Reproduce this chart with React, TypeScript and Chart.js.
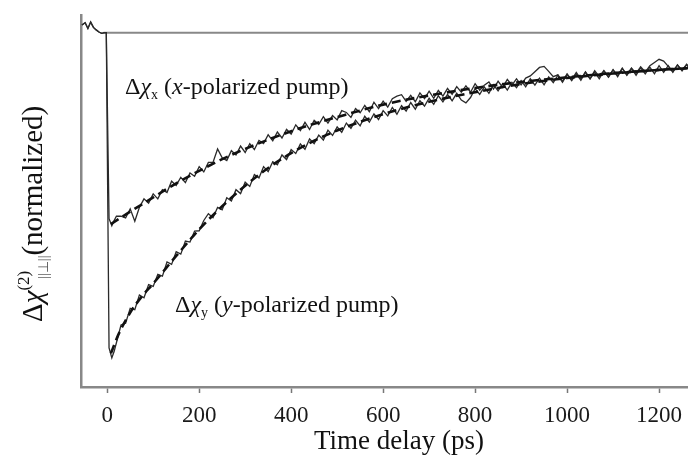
import React, { useEffect, useRef } from "react";
import { Chart, registerables } from "chart.js";

Chart.register(...registerables);

// ---- data (time in ps, signal normalized) ----
const timeData = [
  -55, -48, -42, -36, -30, -24, -18, -12, -6, -2, 4, 10, 15,
  20, 30, 40, 50, 60, 70, 80, 90, 100, 110, 120, 130, 140, 150, 160, 170, 180, 190,
  200, 210, 220, 230, 240, 250, 260, 270, 280, 290, 300, 310, 320, 330, 340, 350, 360, 370, 380, 390,
  400, 410, 420, 430, 440, 450, 460, 470, 480, 490, 500, 510, 520, 530, 540, 550, 560, 570, 580, 590,
  600, 610, 620, 630, 640, 650, 660, 670, 680, 690, 700, 710, 720, 730, 740, 750, 760, 770, 780, 790,
  800, 810, 820, 830, 840, 850, 860, 870, 880, 890, 900, 910, 920, 930, 940, 950, 960, 970, 980, 990,
  1000, 1010, 1020, 1030, 1040, 1050, 1060, 1070, 1080, 1090, 1100, 1110, 1120, 1130, 1140, 1150, 1160, 1170, 1180, 1190,
  1200, 1210, 1220, 1230, 1240, 1250, 1260, 1270, 1280, 1290, 1300,
];
const xPumpData = [
  1.022, 1.028, 1.012, 1.03, 1.015, 1.008, 1.002, 0.998, 1.0, 1.0, 0.475, 0.455, 0.47,
  0.482, 0.482, 0.477, 0.503, 0.468, 0.507, 0.531, 0.519, 0.545, 0.531, 0.557, 0.549, 0.581, 0.569, 0.592, 0.577, 0.604, 0.595,
  0.622, 0.607, 0.634, 0.634, 0.672, 0.647, 0.639, 0.667, 0.655, 0.68, 0.662, 0.687, 0.67, 0.696, 0.687, 0.712, 0.695, 0.72, 0.703, 0.727,
  0.714, 0.74, 0.724, 0.747, 0.727, 0.753, 0.741, 0.763, 0.745, 0.766, 0.754, 0.78, 0.775, 0.761, 0.786, 0.774, 0.795, 0.777, 0.804, 0.786,
  0.807, 0.79, 0.814, 0.821, 0.825, 0.806, 0.823, 0.805, 0.83, 0.814, 0.835, 0.815, 0.837, 0.821, 0.843, 0.826, 0.848, 0.832, 0.85, 0.832,
  0.856, 0.838, 0.852, 0.861, 0.841, 0.863, 0.846, 0.868, 0.852, 0.87, 0.853, 0.872, 0.878, 0.89, 0.902, 0.905, 0.891, 0.876, 0.881, 0.863,
  0.884, 0.867, 0.888, 0.869, 0.889, 0.87, 0.893, 0.876, 0.893, 0.875, 0.896, 0.879, 0.9, 0.881, 0.9, 0.885, 0.904, 0.889, 0.907, 0.916,
  0.925, 0.92, 0.905, 0.89, 0.909, 0.894, 0.911, 0.895, 0.912, 0.896, 0.911,
];
const yPumpData = [
  1.022, 1.028, 1.012, 1.03, 1.015, 1.008, 1.002, 0.998, 1.0, 1.0, 0.11, 0.082, 0.1,
  0.125, 0.175, 0.18, 0.222, 0.218, 0.26, 0.252, 0.289, 0.284, 0.318, 0.313, 0.353, 0.346, 0.382, 0.375, 0.412, 0.409, 0.44,
  0.441, 0.47, 0.489, 0.478, 0.507, 0.5, 0.534, 0.525, 0.557, 0.546, 0.578, 0.566, 0.6, 0.59, 0.622, 0.608, 0.636, 0.627, 0.655, 0.642,
  0.67, 0.659, 0.686, 0.671, 0.7, 0.687, 0.711, 0.697, 0.725, 0.71, 0.734, 0.719, 0.745, 0.73, 0.753, 0.737, 0.764, 0.748, 0.771, 0.755,
  0.78, 0.765, 0.789, 0.77, 0.794, 0.779, 0.803, 0.784, 0.808, 0.793, 0.815, 0.798, 0.822, 0.805, 0.826, 0.808, 0.829, 0.81, 0.802, 0.817,
  0.842, 0.826, 0.847, 0.829, 0.853, 0.836, 0.856, 0.838, 0.86, 0.845, 0.865, 0.847, 0.87, 0.852, 0.872, 0.853, 0.875, 0.859, 0.88, 0.86,
  0.882, 0.865, 0.884, 0.866, 0.889, 0.87, 0.889, 0.87, 0.892, 0.875, 0.895, 0.876, 0.899, 0.88, 0.899, 0.88, 0.901, 0.884, 0.903, 0.884,
  0.907, 0.888, 0.907, 0.888, 0.909, 0.892, 0.91, 0.893, 0.912, 0.894, 0.911,
];
const fitTime = [8, 25, 50, 75, 100, 150, 200, 250, 300, 350, 400, 450, 500, 600, 700, 800, 900, 1000, 1100, 1200, 1300];
const xPumpFit = [0.46, 0.474, 0.495, 0.515, 0.535, 0.575, 0.61, 0.643, 0.672, 0.698, 0.722, 0.743, 0.762, 0.797, 0.823, 0.844, 0.861, 0.874, 0.886, 0.895, 0.903];
const yPumpFit = [0.095, 0.15, 0.21, 0.255, 0.292, 0.37, 0.445, 0.51, 0.568, 0.618, 0.66, 0.695, 0.724, 0.77, 0.805, 0.832, 0.855, 0.872, 0.885, 0.895, 0.903];
const baselineTime = [-8, 1330];
const baselineLevel = [1, 1];
const xTickValues = [0, 200, 400, 600, 800, 1000, 1200];
const xAxisTitle = "Time delay (ps)";

const SERIF = "'Liberation Serif', 'Times New Roman', serif";

type Part = { t: string; size: number; italic?: boolean; dy?: number; dx?: number; color?: string };

function drawRich(ctx: CanvasRenderingContext2D, parts: Part[], x: number, y: number) {
  let cx = x;
  for (const p of parts) {
    ctx.font = `${p.italic ? "italic " : ""}${p.size}px ${SERIF}`;
    ctx.fillStyle = p.color || "#111";
    cx += p.dx || 0;
    ctx.fillText(p.t, cx, y + (p.dy || 0));
    cx += ctx.measureText(p.t).width;
  }
}

const textPlugin = {
  id: "richText",
  afterDraw(chart: any) {
    const ctx: CanvasRenderingContext2D = chart.ctx;
    ctx.save();
    ctx.textBaseline = "alphabetic";
    ctx.textAlign = "left";
    drawRich(
      ctx,
      [
        { t: "Δ", size: 24 },
        { t: "χ", size: 24, italic: true },
        { t: "x", size: 14, dy: 5 },
        { t: " (", size: 24 },
        { t: "x", size: 24, italic: true },
        { t: "-polarized pump)", size: 24 },
      ],
      125,
      94
    );
    drawRich(
      ctx,
      [
        { t: "Δ", size: 24 },
        { t: "χ", size: 24, italic: true },
        { t: "y", size: 14, dy: 5 },
        { t: " (", size: 24 },
        { t: "y", size: 24, italic: true },
        { t: "-polarized pump)", size: 24 },
      ],
      175,
      312
    );
    // y-axis title (rotated)
    ctx.translate(42, 322);
    ctx.rotate(-Math.PI / 2);
    drawRich(
      ctx,
      [
        { t: "Δ", size: 29 },
        { t: "χ", size: 29, italic: true },
        { t: "(2)", size: 17, dy: -13 },
        { t: "||⊥||", size: 14, dy: 6, dx: -8, color: "#555" },
        { t: "(normalized)", size: 29 },
      ],
      0,
      0
    );
    ctx.restore();
  },
};

export default function App() {
  const ref = useRef<HTMLCanvasElement | null>(null);
  useEffect(() => {
    if (!ref.current) return;
    const pts = (xs: number[], ys: number[]) => xs.map((x, i) => ({ x, y: ys[i] }));
    const chart = new Chart(ref.current, {
      type: "line",
      data: {
        datasets: [
          {
            label: "x-pump fit",
            data: pts(fitTime, xPumpFit),
            borderColor: "#111",
            borderWidth: 2.6,
            borderDash: [9, 5],
            pointRadius: 0,
            cubicInterpolationMode: "monotone",
          },
          {
            label: "y-pump fit",
            data: pts(fitTime, yPumpFit),
            borderColor: "#111",
            borderWidth: 2.6,
            borderDash: [9, 5],
            pointRadius: 0,
            cubicInterpolationMode: "monotone",
          },
          {
            label: "x-pump",
            data: pts(timeData, xPumpData),
            borderColor: "#2a2a2a",
            borderWidth: 1.3,
            pointRadius: 0,
            tension: 0,
          },
          {
            label: "y-pump",
            data: pts(timeData, yPumpData),
            borderColor: "#2a2a2a",
            borderWidth: 1.3,
            pointRadius: 0,
            tension: 0,
          },
          {
            label: "baseline",
            data: pts(baselineTime, baselineLevel),
            borderColor: "#888",
            borderWidth: 2,
            pointRadius: 0,
          },
        ],
      },
      options: {
        animation: false,
        responsive: false,
        events: [],
        layout: { padding: { top: 15, right: 3, left: 0, bottom: 0 } },
        plugins: { legend: { display: false }, tooltip: { enabled: false } },
        scales: {
          x: {
            type: "linear",
            min: -57,
            max: 1326,
            afterBuildTicks: (s: any) => {
              s.ticks = xTickValues.map((v) => ({ value: v }));
            },
            afterFit: (s: any) => {
              s.height = 68;
            },
            grid: {
              drawOnChartArea: false,
              drawTicks: true,
              tickLength: 6,
              tickColor: "#777",
              tickWidth: 1.5,
            },
            border: { display: true, color: "#888", width: 2.5 },
            ticks: {
              color: "#1a1a1a",
              padding: 9,
              maxRotation: 0,
              font: { family: SERIF, size: 23 },
              callback: (v: any) => String(v),
            },
            title: {
              display: true,
              text: xAxisTitle,
              color: "#111",
              font: { family: SERIF, size: 27 },
              padding: { top: 0, bottom: -3 },
            },
          },
          y: {
            min: 0,
            max: 1.05,
            afterFit: (s: any) => {
              s.width = 81;
            },
            grid: { display: false },
            border: { display: true, color: "#888", width: 2.5 },
            ticks: { display: false },
          },
        },
      },
      plugins: [textPlugin],
    } as any);
    return () => chart.destroy();
  }, []);
  return (
    <div
      style={{
        position: "fixed",
        left: 0,
        top: 0,
        width: 688,
        height: 455,
        overflow: "hidden",
        background: "#fff",
      }}
    >
      <canvas ref={ref} width={720} height={455} style={{ width: 720, height: 455, display: "block" }} />
    </div>
  );
}
